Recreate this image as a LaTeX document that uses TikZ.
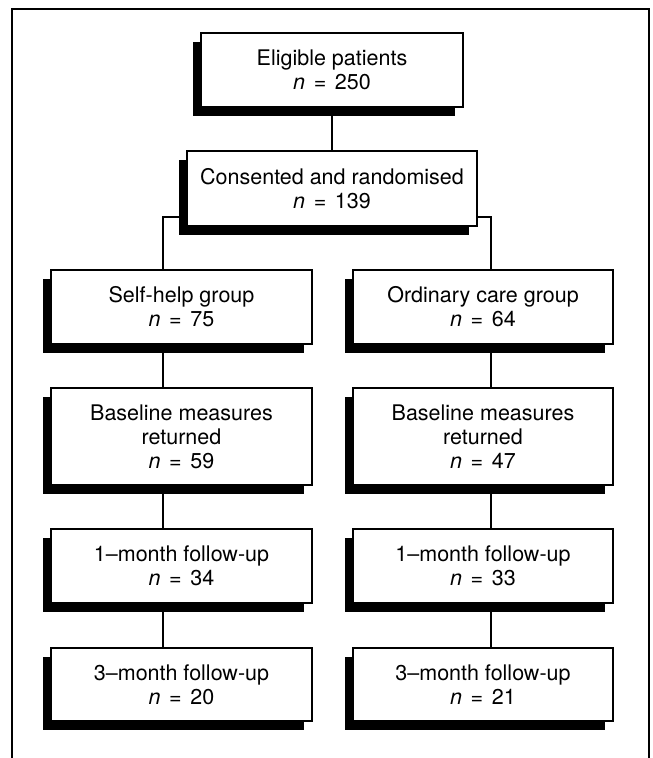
\documentclass[tikz,border=0pt]{standalone}
\usepackage{fontspec}
\setmainfont{TeX Gyre Heros}
\usetikzlibrary{shadows,backgrounds}
\newcommand{\nn}[1]{\textit{n}\hspace{0.4em}=\hspace{0.4em}#1}
\tikzset{
  flowbox/.style={draw, fill=white, line width=2.4pt, align=center, inner sep=0pt,
    font=\fontsize{21.5}{24}\selectfont,
    drop shadow={shadow xshift=-8pt, shadow yshift=-9pt, fill=black, opacity=1}},
  link/.style={line width=2pt},
  frame/.style={line width=2pt}
}
\begin{document}
\begin{tikzpicture}[x=1pt,y=-1pt]
\useasboundingbox (0,0) rectangle (653,758);
\begin{pgfonlayer}{background}
\fill[white] (0,0) rectangle (653,758);
\end{pgfonlayer}
\draw[frame] (12,758) -- (12,9) -- (649,9) -- (649,758);
\node[flowbox, minimum width=262pt, minimum height=74pt] (elig) at (332,70) {Eligible patients\\\nn{250}};
\node[flowbox, minimum width=290pt, minimum height=75pt] (cons) at (332,188.5) {Consented and randomised\\\nn{139}};
\node[flowbox, minimum width=261pt, minimum height=74pt] (sh) at (181.5,307) {Self-help group\\\nn{75}};
\node[flowbox, minimum width=260pt, minimum height=74pt] (oc) at (483,307) {Ordinary care group\\\nn{64}};
\node[flowbox, minimum width=261pt, minimum height=97pt] (bl) at (181.5,436.5) {Baseline measures\\returned\\\nn{59}};
\node[flowbox, minimum width=260pt, minimum height=97pt] (br) at (483,436.5) {Baseline measures\\returned\\\nn{47}};
\node[flowbox, minimum width=261pt, minimum height=74pt] (ml1) at (181.5,566) {1–month follow-up\\\nn{34}};
\node[flowbox, minimum width=260pt, minimum height=74pt] (mr1) at (483,566) {1–month follow-up\\\nn{33}};
\node[flowbox, minimum width=261pt, minimum height=73pt] (ml3) at (181.5,684.5) {3–month follow-up\\\nn{20}};
\node[flowbox, minimum width=260pt, minimum height=73pt] (mr3) at (483,684.5) {3–month follow-up\\\nn{21}};
\begin{pgfonlayer}{background}
\draw[link] (elig) -- (cons);
\draw[link] ([yshift=10pt]cons.south west) -| ([xshift=-18.5pt]sh.north);
\draw[link] ([yshift=10pt]cons.south east) -| ([xshift=8pt]oc.north);
\draw[link] ([xshift=-18.5pt]sh.south) -- ([xshift=-18.5pt]bl.north);
\draw[link] ([xshift=-18.5pt]bl.south) -- ([xshift=-18.5pt]ml1.north);
\draw[link] ([xshift=-18.5pt]ml1.south) -- ([xshift=-18.5pt]ml3.north);
\draw[link] ([xshift=8pt]oc.south) -- ([xshift=8pt]br.north);
\draw[link] ([xshift=8pt]br.south) -- ([xshift=8pt]mr1.north);
\draw[link] ([xshift=8pt]mr1.south) -- ([xshift=8pt]mr3.north);
\end{pgfonlayer}
\end{tikzpicture}
\end{document}
